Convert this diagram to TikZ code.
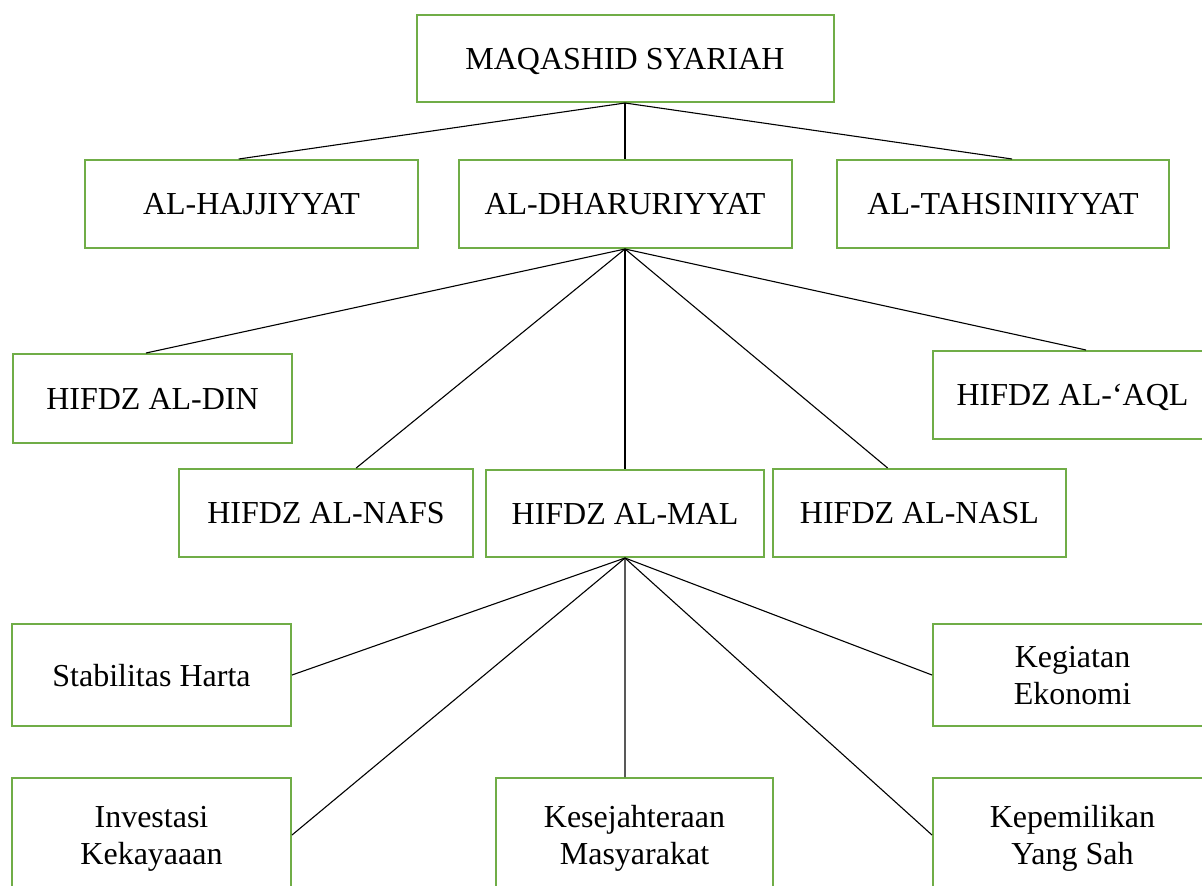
\documentclass[tikz,border=0pt]{standalone}
\usepackage{fontspec}
\setmainfont{Liberation Serif}
\usetikzlibrary{calc}
\definecolor{boxgreen}{HTML}{70AD47}
\begin{document}
\begin{tikzpicture}[x=1pt,y=-1pt,
  box/.style={draw=boxgreen,line width=2pt,fill=white,inner sep=0pt,align=center,
    text depth=0pt,font=\fontsize{32}{37}\selectfont},
  link/.style={draw=black,line width=1.1pt}]
\clip (0,0) rectangle (1202,886);
\node[box,minimum width=417pt,minimum height=87pt] (top) at (625,58.5) {MAQASHID SYARIAH};
\node[box,minimum width=333pt,minimum height=88pt] (haj) at (251.5,204) {AL-HAJJIYYAT};
\node[box,minimum width=333pt,minimum height=88pt] (dha) at (625,204) {AL-DHARURIYYAT};
\node[box,minimum width=332pt,minimum height=88pt] (tah) at (1003,204) {AL-TAHSINIIYYAT};
\node[box,minimum width=279pt,minimum height=89pt] (din) at (152.5,398.5) {HIFDZ AL-DIN};
\node[box,minimum width=279pt,minimum height=88pt] (aql) at (1072.5,395) {HIFDZ AL-‘AQL};
\node[box,minimum width=294pt,minimum height=88pt] (nafs) at (326,513) {HIFDZ AL-NAFS};
\node[box,minimum width=278pt,minimum height=87pt] (mal) at (625,513.5) {HIFDZ AL-MAL};
\node[box,minimum width=293pt,minimum height=88pt] (nasl) at (919.5,513) {HIFDZ AL-NASL};
\node[box,minimum width=279pt,minimum height=102pt] (stab) at (151.5,675) {Stabilitas Harta};
\node[box,minimum width=279pt,minimum height=102pt] (keg) at (1072.5,675) {Kegiatan\\Ekonomi};
\node[box,minimum width=279pt,minimum height=114pt] (inv) at (151.5,835) {Investasi\\Kekayaaan};
\node[box,minimum width=277pt,minimum height=114pt] (kes) at (634.5,835) {Kesejahteraan\\Masyarakat};
\node[box,minimum width=279pt,minimum height=114pt] (kep) at (1072.5,835) {Kepemilikan\\Yang Sah};

\draw[link] (top.south) -- ($(haj.north west)!0.462!(haj.north east)$);
\draw[link] (top.south) -- (dha.north);
\draw[link] (top.south) -- ($(tah.north west)!0.527!(tah.north east)$);

\draw[link] (dha.south) -- ($(din.north west)!0.477!(din.north east)$);
\draw[link] (dha.south) -- ($(nafs.north west)!0.602!(nafs.north east)$);
\draw[link] (dha.south) -- (mal.north);
\draw[link] (dha.south) -- ($(nasl.north west)!0.392!(nasl.north east)$);
\draw[link] (dha.south) -- ($(aql.north west)!0.548!(aql.north east)$);

\draw[link] (mal.south) -- (stab.east);
\draw[link] (mal.south) -- (inv.east);
\draw[link] (mal.south) -- ($(kes.north west)!0.466!(kes.north east)$);
\draw[link] (mal.south) -- (kep.west);
\draw[link] (mal.south) -- (keg.west);
\end{tikzpicture}
\end{document}
